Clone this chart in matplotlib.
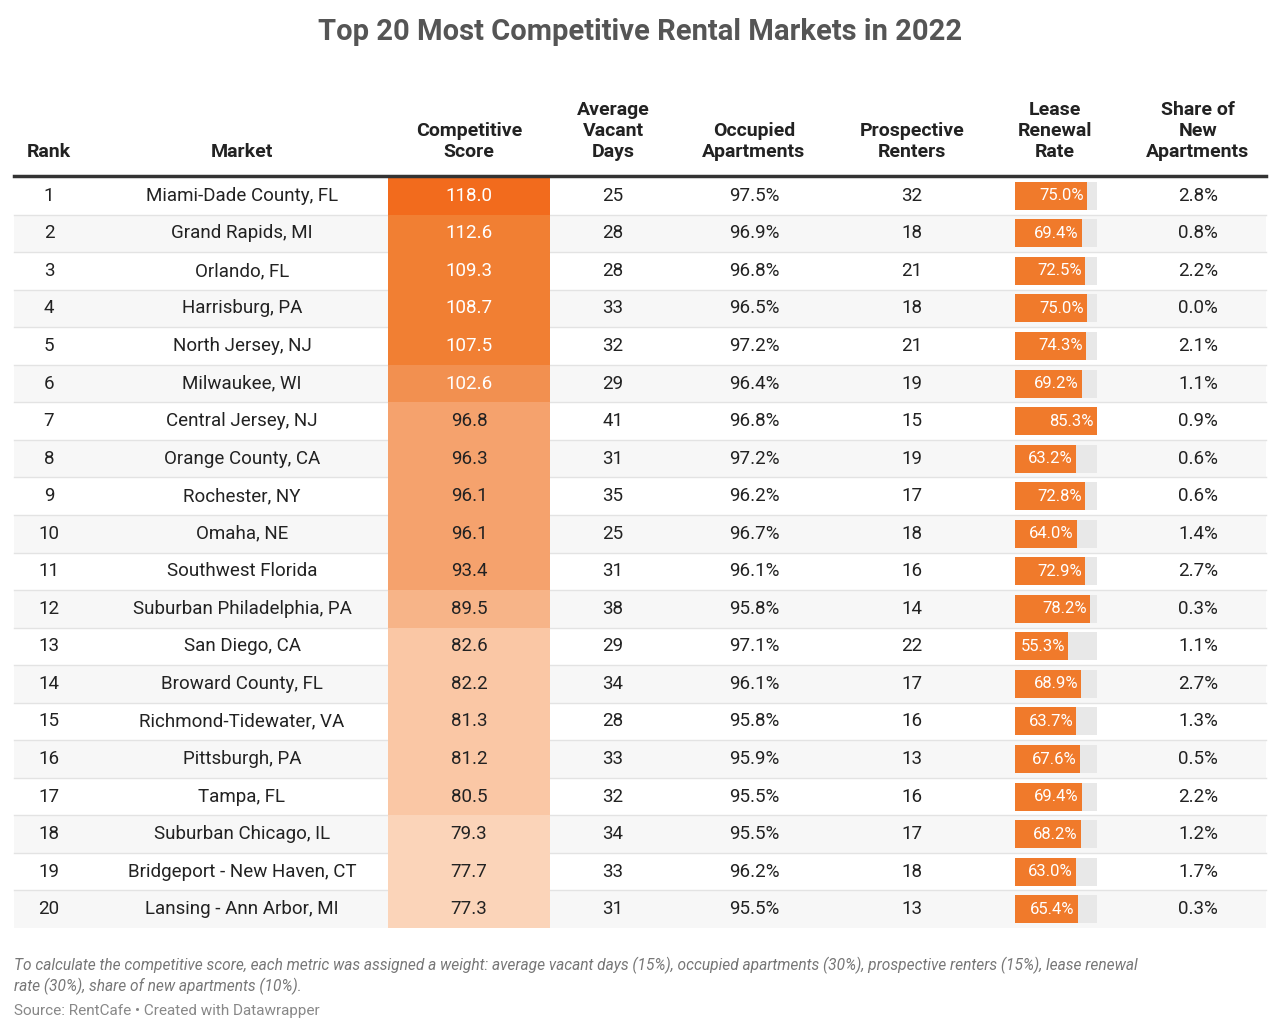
import matplotlib
matplotlib.use("Agg")
import matplotlib.pyplot as plt
from matplotlib.patches import Rectangle

plt.rcParams['font.family'] = ['Roboto', 'DejaVu Sans']

ranks = list(range(1, 21))
markets = ["Miami-Dade County, FL", "Grand Rapids, MI", "Orlando, FL", "Harrisburg, PA",
           "North Jersey, NJ", "Milwaukee, WI", "Central Jersey, NJ", "Orange County, CA",
           "Rochester, NY", "Omaha, NE", "Southwest Florida", "Suburban Philadelphia, PA",
           "San Diego, CA", "Broward County, FL", "Richmond-Tidewater, VA", "Pittsburgh, PA",
           "Tampa, FL", "Suburban Chicago, IL", "Bridgeport - New Haven, CT", "Lansing - Ann Arbor, MI"]
scores = [118.0, 112.6, 109.3, 108.7, 107.5, 102.6, 96.8, 96.3, 96.1, 96.1, 93.4, 89.5,
          82.6, 82.2, 81.3, 81.2, 80.5, 79.3, 77.7, 77.3]
vacant_days = [25, 28, 28, 33, 32, 29, 41, 31, 35, 25, 31, 38, 29, 34, 28, 33, 32, 34, 33, 31]
occupied = [97.5, 96.9, 96.8, 96.5, 97.2, 96.4, 96.8, 97.2, 96.2, 96.7, 96.1, 95.8, 97.1,
            96.1, 95.8, 95.9, 95.5, 95.5, 96.2, 95.5]
prospective = [32, 18, 21, 18, 21, 19, 15, 19, 17, 18, 16, 14, 22, 17, 16, 13, 16, 17, 18, 13]
lease_renewal = [75.0, 69.4, 72.5, 75.0, 74.3, 69.2, 85.3, 63.2, 72.8, 64.0, 72.9, 78.2,
                 55.3, 68.9, 63.7, 67.6, 69.4, 68.2, 63.0, 65.4]
new_share = [2.8, 0.8, 2.2, 0.0, 2.1, 1.1, 0.9, 0.6, 0.6, 1.4, 2.7, 0.3, 1.1, 2.7, 1.3,
             0.5, 2.2, 1.2, 1.7, 0.3]

def score_color(s):
    if s >= 115: return '#f26b1d'
    if s >= 105: return '#f17f33'
    if s >= 100: return '#f29050'
    if s >= 92: return '#f5a26d'
    if s >= 85: return '#f7b488'
    if s >= 80: return '#fac7a5'
    return '#fbd4b9'

W, H = 1280, 1034
fig = plt.figure(figsize=(W/100, H/100), dpi=100)
ax = fig.add_axes([0, 0, 1, 1])
ax.set_xlim(0, W); ax.set_ylim(H, 0); ax.axis('off')

dark = '#222222'
ax.text(640, 32, "Top 20 Most Competitive Rental Markets in 2022", ha='center', va='center',
        fontsize=21, fontweight='bold', color='#555555')

headers = [(49, "Rank"), (242, "Market"), (469, "Competitive\nScore"), (613, "Average\nVacant\nDays"),
           (754, "Occupied\nApartments"), (912, "Prospective\nRenters"), (1055, "Lease\nRenewal\nRate"),
           (1198, "Share of\nNew\nApartments")]
for x, h in headers:
    ax.text(x, 161, h, ha='center', va='bottom', fontsize=14, fontweight='bold', color=dark,
            linespacing=1.2)

top = 177
rh = (928 - 177) / 20
x0, x1 = 14, 1266
bar_x0, bar_w = 1015, 82
maxl = max(lease_renewal)
for i in range(20):
    y = top + i * rh
    if i % 2 == 1:
        ax.add_patch(Rectangle((x0, y), x1 - x0, rh, color='#f7f7f7', lw=0, zorder=0))
    if i > 0:
        ax.plot([x0, x1], [y, y], color='#e3e3e3', lw=1, zorder=1)
    ax.add_patch(Rectangle((388, y), 162, rh + 0.5, color=score_color(scores[i]), lw=0, zorder=2))
    cy = y + rh / 2
    fs = 13.5
    ax.text(49, cy, str(ranks[i]), ha='center', va='center', fontsize=fs, color=dark, zorder=3)
    ax.text(242, cy, markets[i], ha='center', va='center', fontsize=fs, color=dark, zorder=3)
    ax.text(469, cy, f"{scores[i]:.1f}", ha='center', va='center', fontsize=fs,
            color='white' if scores[i] > 100 else dark, zorder=3)
    ax.text(613, cy, str(vacant_days[i]), ha='center', va='center', fontsize=fs, color=dark, zorder=3)
    ax.text(754, cy, f"{occupied[i]:.1f}%", ha='center', va='center', fontsize=fs, color=dark, zorder=3)
    ax.text(912, cy, str(prospective[i]), ha='center', va='center', fontsize=fs, color=dark, zorder=3)
    bh = 28
    ax.add_patch(Rectangle((bar_x0, cy - bh/2), bar_w, bh, color='#e8e8e8', lw=0, zorder=2))
    bw = bar_w * lease_renewal[i] / maxl
    ax.add_patch(Rectangle((bar_x0, cy - bh/2), bw, bh, color='#f07a2b', lw=0, zorder=3))
    ax.text(bar_x0 + bw - 3, cy, f"{lease_renewal[i]:.1f}%", ha='right', va='center', fontsize=12,
            color='white', zorder=4)
    ax.text(1198, cy, f"{new_share[i]:.1f}%", ha='center', va='center', fontsize=fs, color=dark, zorder=3)

ax.plot([x0, x1], [175.5, 175.5], color='#333333', lw=2.5, zorder=5)

ax.text(14, 957, "To calculate the competitive score, each metric was assigned a weight: average vacant days (15%), occupied apartments (30%), prospective renters (15%), lease renewal\nrate (30%), share of new apartments (10%).",
        ha='left', va='top', fontsize=11.2, style='italic', color='#777777', linespacing=1.3)
ax.text(14, 1011, "Source: RentCafe • Created with Datawrapper", ha='left', va='center',
        fontsize=11, color='#888888')

fig.savefig("out.png", dpi=100)
